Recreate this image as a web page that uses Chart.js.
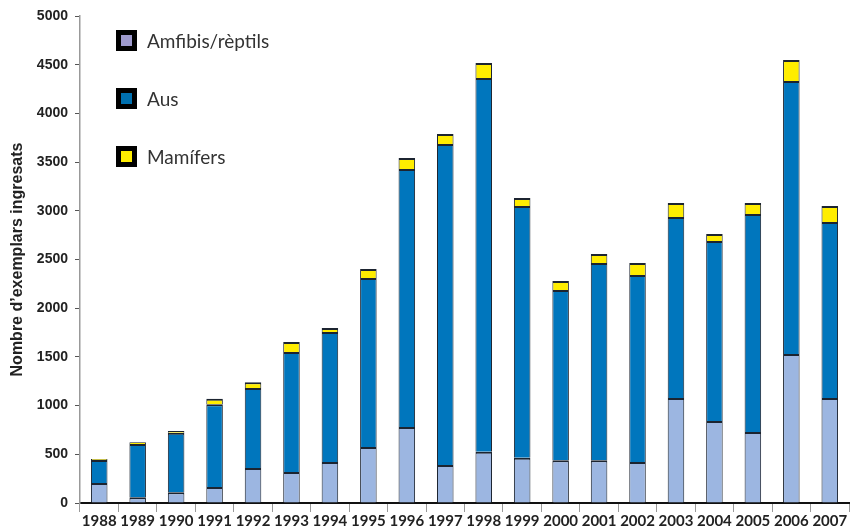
<!DOCTYPE html>
<html>
<head>
<meta charset="utf-8">
<script src="https://cdn.jsdelivr.net/npm/chart.js@4"></script>
<style>
  html, body { margin: 0; padding: 0; background: #fff; }
  #wrap { position: relative; width: 857px; height: 526px; }
  #legend { position: absolute; left: 116px; top: 30px; font-family: Lato, 'Open Sans', sans-serif; font-size: 19px; color: #333; }
  .item { display: flex; align-items: center; height: 21px; margin-bottom: 37px; }
  .box { width: 11px; height: 11px; border: 5px solid #000; margin-right: 10px; }
</style>
</head>
<body>
<div id="wrap">
  <canvas id="c" width="857" height="526"></canvas>
  <div id="legend"></div>
</div>
<script>
// Data
const years = ['1988','1989','1990','1991','1992','1993','1994','1995','1996','1997',
               '1998','1999','2000','2001','2002','2003','2004','2005','2006','2007'];
const amfibis = [205, 60, 110, 165, 360, 318, 420, 575, 780, 390, 525, 465, 440, 440, 420, 1078, 842, 729, 1530, 1078];
const aus = [236, 545, 610, 850, 820, 1232, 1335, 1735, 2649, 3296, 3838, 2584, 1747, 2024, 1921, 1858, 1848, 2238, 2803, 1807];
const mamifers = [10, 20, 20, 55, 60, 103, 42, 92, 113, 102, 154, 82, 92, 92, 123, 144, 72, 113, 215, 164];
const yTicks = [0, 500, 1000, 1500, 2000, 2500, 3000, 3500, 4000, 4500, 5000];

const seriesNames = ['Amfibis/rèptils', 'Aus', 'Mamífers'];
const barColors = ['#9cb6e1', '#0076bd', '#ffed00'];
const legendColors = ['#9e9acd', '#0070b0', '#ffed00'];

function ds(i, values) {
    return {
        label: seriesNames[i],
        data: values,
        backgroundColor: barColors[i],
        borderColor: '#1c2430',
        borderWidth: { top: 2, left: 1, right: 1, bottom: 0 },
        borderSkipped: false,
        barPercentage: 0.43,
        categoryPercentage: 1
    };
}

const ctx = document.getElementById('c').getContext('2d');
const chart = new Chart(ctx, {
    type: 'bar',
    data: {
        labels: years,
        datasets: [ds(0, amfibis), ds(1, aus), ds(2, mamifers)]
    },
    options: {
        responsive: false,
        animation: false,
        layout: { padding: { top: 16, right: 8, left: 0, bottom: 0 } },
        plugins: { legend: { display: false }, tooltip: { enabled: false } },
        scales: {
            x: {
                stacked: true,
                grid: { drawOnChartArea: false, tickLength: 9, color: '#999', offset: true },
                border: { color: '#111', width: 2 },
                ticks: {
                    color: '#222', padding: 0, autoSkip: false, maxRotation: 0, minRotation: 0,
                    font: { family: 'Lato', weight: 'bold', size: 15 }
                },
                afterFit: s => { s.height = 23; }
            },
            y: {
                stacked: true,
                min: 0,
                max: 5000,
                afterBuildTicks: s => { s.ticks = yTicks.map(v => ({ value: v })); },
                grid: { drawOnChartArea: false, tickLength: 5, color: '#555' },
                border: { color: '#999', width: 1.5 },
                ticks: {
                    color: '#222', padding: 7,
                    callback: v => String(v),
                    font: { family: 'Liberation Sans', weight: 'bold', size: 14 }
                },
                title: {
                    display: true,
                    text: 'Nombre d\u2019exemplars ingresats',
                    color: '#222',
                    padding: { top: 8, bottom: 0 },
                    font: { family: 'Liberation Sans', weight: 'bold', size: 16 }
                },
                afterFit: s => { s.width = 80; }
            }
        }
    }
});

// HTML legend
const legend = document.getElementById('legend');
seriesNames.forEach((name, i) => {
    const item = document.createElement('div');
    item.className = 'item';
    item.innerHTML = '<span class="box" style="background:' + legendColors[i] + '"></span><span>' + name + '</span>';
    legend.appendChild(item);
});
</script>
</body>
</html>
